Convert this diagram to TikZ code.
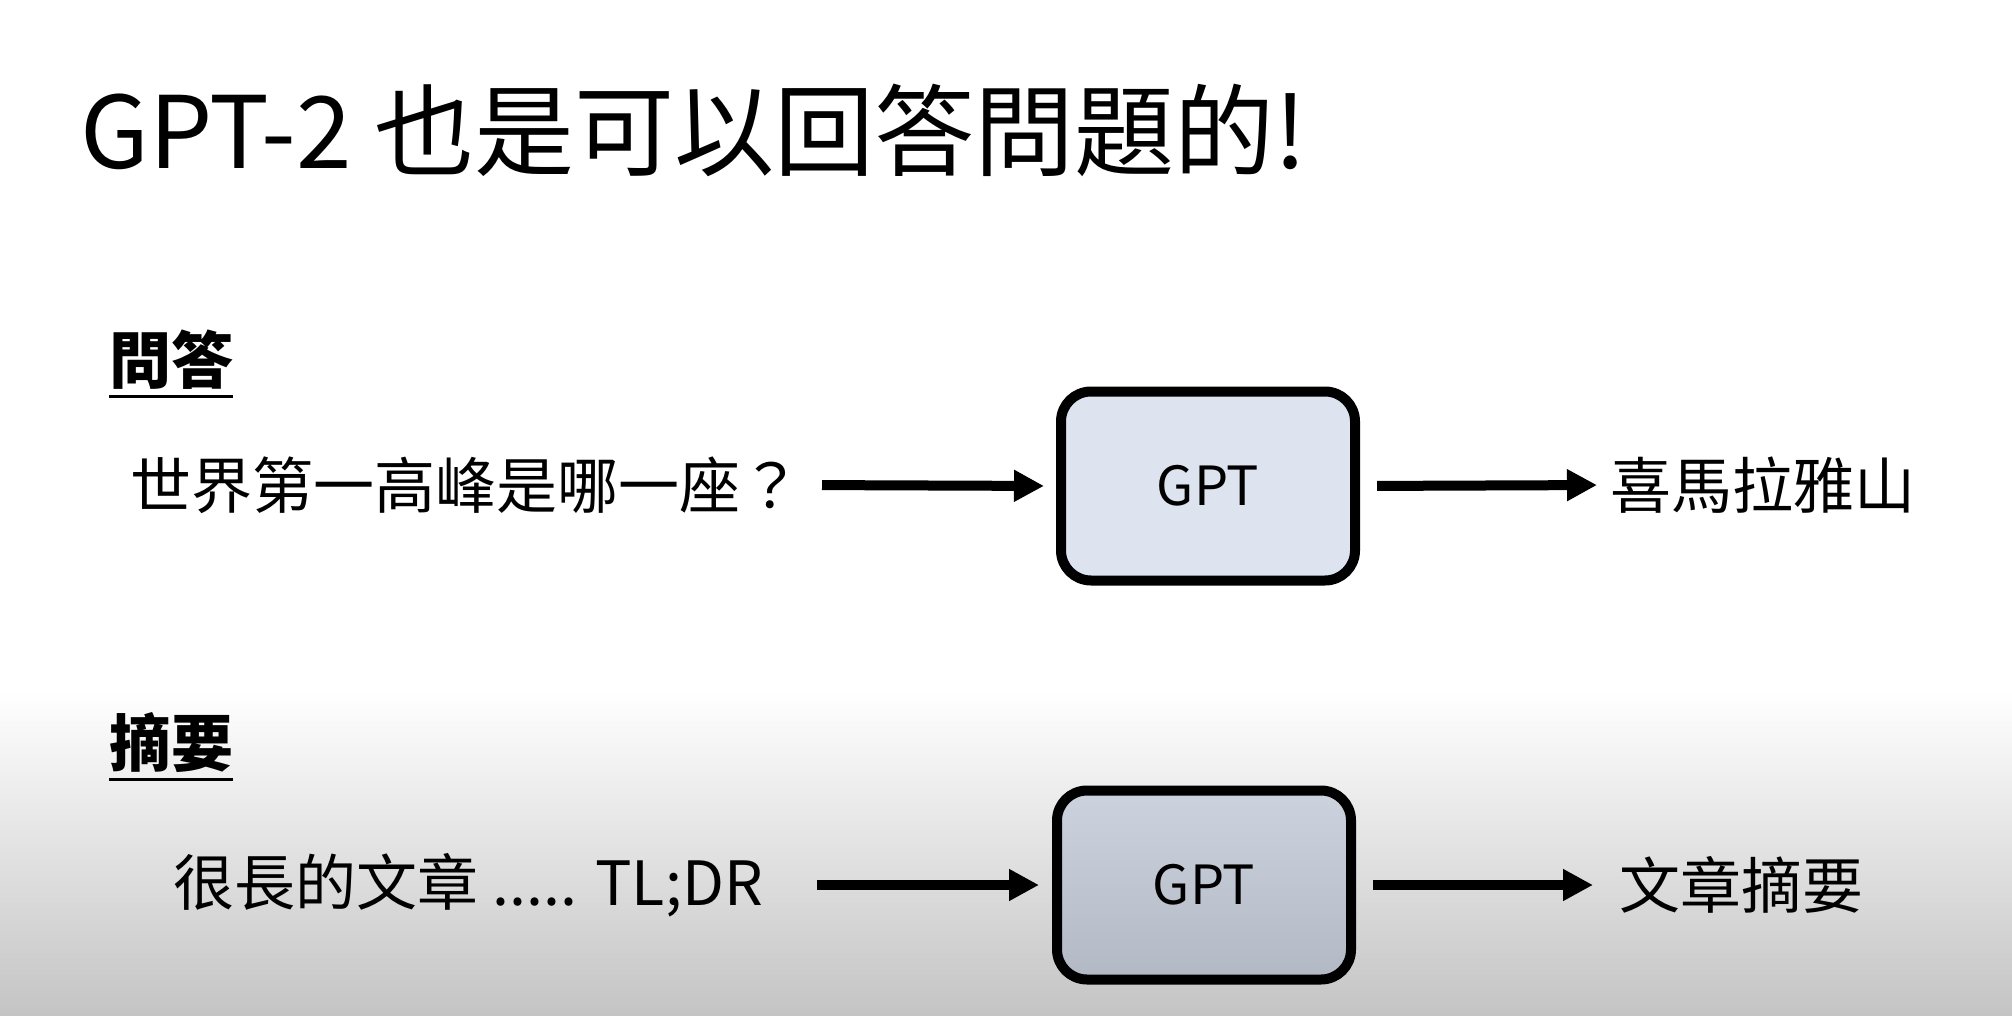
\documentclass[tikz,border=0pt]{standalone}
\usepackage{fontspec}
\setmainfont{Noto Sans CJK TC}
\usetikzlibrary{arrows.meta, positioning}
\usepackage{xcolor}
\definecolor{gptfill}{HTML}{DEE4EF}
\definecolor{gptfilltop}{HTML}{CDD3DE}
\definecolor{gptfillbottom}{HTML}{B3B9C4}
\definecolor{slidegray}{HTML}{C4C4C4}

\begin{document}
\begin{tikzpicture}[
    x=1pt, y=-1pt,
    heading/.style={
        anchor=base west,
        inner xsep=0pt,
        inner ysep=7.5pt,
        font=\fontsize{62}{70}\selectfont\bfseries
    },
    prompt/.style={
        anchor=east,
        inner sep=0pt,
        font=\fontsize{61}{70}\selectfont
    },
    reply/.style={
        anchor=west,
        inner sep=0pt,
        font=\fontsize{61}{70}\selectfont
    },
    model/.style={
        rectangle,
        rounded corners=30pt,
        minimum width=294pt,
        minimum height=189pt,
        draw=black,
        line width=10pt,
        font=\fontsize{54}{60}\selectfont
    },
    arrow/.style={
        -{Triangle[length=30pt, width=30pt]},
        line width=10pt
    },
    uline/.style={
        line width=3pt
    }
]

% Background
\useasboundingbox (0,0) rectangle (2012,1016);
\fill[white] (0,0) rectangle (2012,1016);
\shade[top color=white, bottom color=slidegray] (0,690) rectangle (2012,1016);

% Title
\node[anchor=base west, inner sep=0pt, font=\fontsize{100}{110}\selectfont] (title) at (80,169) {GPT-2 也是可以回答問題的!};

% Question answering
\node[heading] (h1) at (109,383) {問答};
\draw[uline] (h1.south west) -- (h1.south east);

\node[prompt] (q1) at (802,485) {世界第一高峰是哪一座？};
\node[model, fill=gptfill] (g1) at (1208,486) {GPT};
\node[reply] (a1) at (1610,485) {喜馬拉雅山};
\draw[arrow, shorten <=20pt, shorten >=12pt] (q1.east) -- (g1.west);
\draw[arrow, shorten <=17pt, shorten >=13pt] (g1.east) -- (a1.west);

% Summarization
\node[heading] (h2) at (109,766) {摘要};
\draw[uline] (h2.south west) -- (h2.south east);

\node[prompt] (q2) at (763,885) {很長的文章 ..... TL;DR};
\node[model, top color=gptfilltop, bottom color=gptfillbottom] (g2) at (1204,885) {GPT};
\node[reply] (a2) at (1619,885) {文章摘要};
\draw[arrow, shorten <=54pt, shorten >=13pt] (q2.east) -- (g2.west);
\draw[arrow, shorten <=17pt, shorten >=26pt] (g2.east) -- (a2.west);

\end{tikzpicture}
\end{document}
